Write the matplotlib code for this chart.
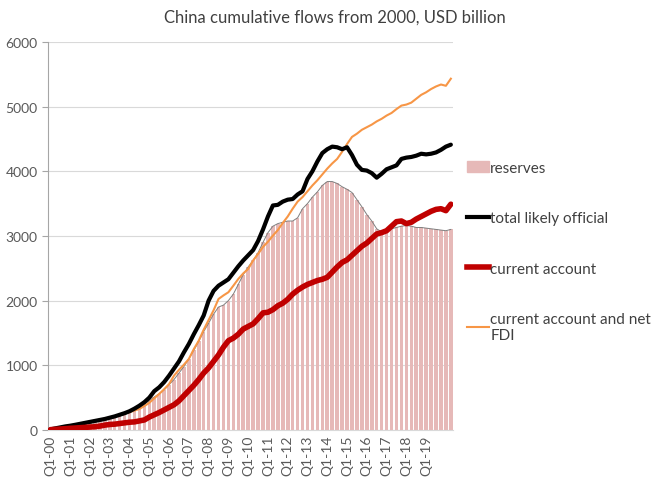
import numpy as np
import matplotlib.pyplot as plt
from matplotlib.patches import Patch
from matplotlib.lines import Line2D

plt.rcParams['font.family'] = ['Lato', 'DejaVu Sans']

# quarters Q1-00 .. Q2-20
years = list(range(2000, 2021))
quarters = [f"Q{q}-{y % 100:02d}" for y in years for q in range(1, 5)][:82]

reserves = [5, 20, 30, 40, 55, 70, 85, 100, 110, 125, 140, 160, 180, 200, 215, 240,
            270, 300, 350, 400, 450, 510, 560, 620, 700, 780, 880, 980, 1100, 1230,
            1370, 1520, 1650, 1790, 1900, 1930, 2000, 2100, 2250, 2400, 2520, 2620,
            2740, 2900, 3050, 3150, 3190, 3210, 3230, 3230, 3280, 3420, 3500, 3600,
            3680, 3780, 3840, 3840, 3810, 3760, 3720, 3670, 3560, 3450, 3330, 3230,
            3110, 3060, 3080, 3110, 3130, 3150, 3160, 3150, 3130, 3130, 3120, 3110,
            3100, 3090, 3080, 3100]

total_official = [10, 25, 40, 55, 66, 80, 95, 110, 125, 140, 155, 170, 190, 210, 235, 260,
                  290, 330, 376, 430, 500, 600, 660, 740, 840, 950, 1060, 1200, 1330, 1480,
                  1620, 1770, 2000, 2150, 2230, 2280, 2330, 2430, 2530, 2620, 2700, 2780,
                  2920, 3100, 3300, 3470, 3480, 3530, 3560, 3570, 3640, 3690, 3880, 4000,
                  4150, 4280, 4340, 4380, 4370, 4340, 4370, 4250, 4100, 4020, 4010, 3970,
                  3900, 3960, 4030, 4060, 4090, 4190, 4210, 4220, 4240, 4270, 4260, 4270,
                  4290, 4330, 4380, 4410]

current_account = [5, 10, 15, 20, 26, 30, 35, 40, 45, 50, 60, 75, 85, 90, 100, 110,
                   120, 125, 140, 155, 200, 235, 270, 310, 350, 390, 450, 530, 610, 690,
                   780, 880, 960, 1060, 1160, 1280, 1380, 1420, 1480, 1560, 1600, 1640,
                   1720, 1810, 1820, 1860, 1920, 1960, 2020, 2100, 2160, 2210, 2250, 2280,
                   2310, 2330, 2360, 2440, 2520, 2590, 2630, 2700, 2770, 2840, 2890, 2960,
                   3030, 3050, 3080, 3150, 3220, 3230, 3190, 3210, 3260, 3300, 3340, 3380,
                   3410, 3420, 3390, 3490]

ca_fdi = [10, 25, 45, 60, 70, 85, 100, 115, 130, 145, 160, 175, 190, 205, 225, 250,
          275, 300, 325, 370, 420, 490, 557, 630, 710, 840, 930, 1010, 1098, 1250,
          1380, 1550, 1700, 1850, 2025, 2080, 2129, 2230, 2334, 2420, 2489, 2620,
          2720, 2830, 2910, 3004, 3090, 3200, 3300, 3420, 3530, 3600, 3690, 3780,
          3860, 3950, 4040, 4120, 4190, 4300, 4420, 4530, 4580, 4640, 4680, 4720,
          4770, 4810, 4860, 4900, 4960, 5014, 5030, 5060, 5120, 5180, 5220, 5270,
          5310, 5340, 5320, 5430]

x = np.arange(len(quarters))

fig = plt.figure(figsize=(6.7, 4.81), dpi=100)
ax = fig.add_axes([0.0716, 0.104, 0.605, 0.807])

ax.bar(x, reserves, width=0.72, color='#E6B9B8', zorder=2)
ax.plot(x, reserves, color='#7F7F7F', lw=0.7, zorder=3)
ax.plot(x, ca_fdi, color='#F79646', lw=1.5, zorder=4)
ax.plot(x, total_official, color='black', lw=3, zorder=5, solid_capstyle='round')
ax.plot(x, current_account, color='#C00000', lw=4, zorder=6, solid_capstyle='round')

ax.set_xlim(-0.5, len(quarters) - 0.5)
ax.set_ylim(0, 6000)
ax.set_yticks(range(0, 6001, 1000))
ax.set_xticks(x[::4][:20])
ax.set_xticklabels(quarters[::4][:20], rotation=90)
ax.tick_params(axis='both', colors='#595959', labelsize=10, length=0)
ax.tick_params(axis='y', length=4, color='#A6A6A6')
ax.grid(axis='y', color='#D9D9D9', lw=0.8, zorder=0)
ax.set_axisbelow(True)
for s in ['top', 'right']:
    ax.spines[s].set_visible(False)
ax.spines['left'].set_color('#A6A6A6')
ax.spines['bottom'].set_color('#D9D9D9')

fig.text(0.5, 0.963, "China cumulative flows from 2000, USD billion",
         ha='center', va='center', fontsize=12, color='#404040')

handles = [Patch(color='#E6B9B8'),
           Line2D([], [], color='black', lw=3),
           Line2D([], [], color='#C00000', lw=4),
           Line2D([], [], color='#F79646', lw=1.5)]
labels = ['reserves', 'total likely official', 'current account',
          'current account and net\nFDI']
leg = fig.legend(handles, labels, loc='upper left', bbox_to_anchor=(0.676, 0.692),
                 frameon=False, fontsize=11, handlelength=1.45, handletextpad=0.1,
                 labelspacing=2.38, labelcolor='#404040')

fig.savefig('out.png', dpi=100)
